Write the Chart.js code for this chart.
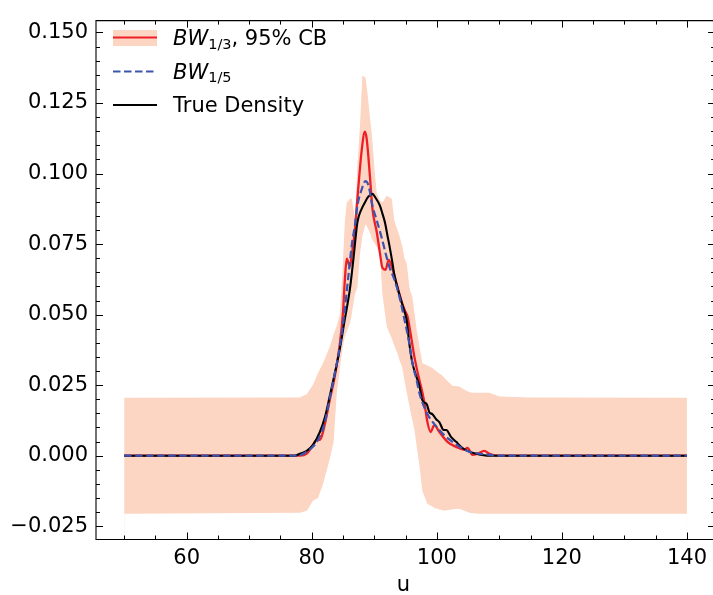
<!DOCTYPE html>
<html>
<head>
<meta charset="utf-8">
<script src="https://cdn.jsdelivr.net/npm/chart.js@4.4.0/dist/chart.umd.min.js"></script>
<style>
  html, body { margin: 0; padding: 0; background: #fff; }
</style>
</head>
<body>
<canvas id="kde" width="713" height="595"></canvas>
<script>
// --- data ---
const redU = [50, 78.1, 79.2, 80.2, 80.8, 81.3, 81.8, 82.9, 83.7, 84.5, 85.0, 85.3, 85.6, 86.1, 86.4, 86.9, 87.3, 88.0, 88.5, 88.8, 89.3, 89.7, 90.4, 90.9, 91.3, 91.8, 92.3, 92.8, 93.6, 94.5, 95.0, 95.3, 95.8, 96.4, 97.2, 97.7, 98.0, 98.5, 99.0, 99.6, 100.4, 101.7, 103.1, 104.4, 104.9, 105.7, 106.5, 107.6, 108.4, 110.0, 140];
const redV = [0, 0, 0.0007, 0.0038, 0.0056, 0.0056, 0.0084, 0.0199, 0.0283, 0.0398, 0.0509, 0.0625, 0.0698, 0.0670, 0.0712, 0.0799, 0.0911, 0.1085, 0.1148, 0.1120, 0.0991, 0.0876, 0.0792, 0.0719, 0.0666, 0.0659, 0.0694, 0.0670, 0.0607, 0.0537, 0.0509, 0.0495, 0.0433, 0.0352, 0.0269, 0.0223, 0.0189, 0.0119, 0.0084, 0.0108, 0.0084, 0.0049, 0.0031, 0.0021, 0.0028, 0.0003, 0.0007, 0.0017, 0.0007, 0, 0];

const blueU = [50, 77.8, 78.9, 80.0, 81.0, 82.1, 82.9, 83.7, 84.5, 85.3, 85.8, 86.4, 86.9, 87.3, 88.0, 88.6, 89.1, 89.7, 90.4, 91.2, 92.0, 92.4, 93.2, 94.0, 94.8, 95.6, 96.1, 96.8, 97.2, 98.0, 98.8, 99.6, 100.4, 101.5, 102.8, 103.9, 105.2, 106.8, 108.4, 110.0, 140];
const blueV = [0, 0, 0.0010, 0.0028, 0.0056, 0.0119, 0.0206, 0.0293, 0.0387, 0.0520, 0.0625, 0.0747, 0.0816, 0.0886, 0.0945, 0.0973, 0.0956, 0.0886, 0.0834, 0.0771, 0.0701, 0.0670, 0.0625, 0.0565, 0.0485, 0.0398, 0.0328, 0.0265, 0.0223, 0.0171, 0.0136, 0.0112, 0.0091, 0.0066, 0.0045, 0.0028, 0.0014, 0.0007, 0.0003, 0, 0];

const trueU = [50, 77.3, 78.1, 79.2, 80.2, 81.3, 82.1, 82.9, 83.7, 84.5, 85.3, 86.1, 86.7, 87.3, 88.0, 88.5, 88.9, 89.4, 89.7, 90.2, 90.9, 91.3, 91.7, 92.1, 92.4, 92.9, 93.2, 94.0, 94.7, 95.2, 95.6, 96.1, 96.8, 97.2, 97.7, 98.4, 98.8, 99.3, 99.9, 100.4, 101.1, 101.5, 102.3, 103.1, 103.9, 104.9, 106.3, 108.4, 140];
const trueV = [0, 0, 0.0007, 0.0017, 0.0038, 0.0084, 0.0136, 0.0213, 0.0293, 0.0380, 0.0485, 0.0590, 0.0705, 0.0827, 0.0876, 0.0897, 0.0914, 0.0924, 0.0928, 0.0914, 0.0886, 0.0858, 0.0827, 0.0781, 0.0747, 0.0684, 0.0642, 0.0572, 0.0520, 0.0478, 0.0398, 0.0328, 0.0276, 0.0248, 0.0196, 0.0182, 0.0154, 0.0147, 0.0129, 0.0119, 0.0091, 0.0091, 0.0066, 0.0049, 0.0031, 0.0017, 0.0007, 0, 0];

// 95% confidence band, upper and lower edge on one u grid
const cbU = [50, 78.1, 79.2, 80.2, 81.0, 81.8, 82.9, 83.5, 84.0, 84.5, 84.8, 85.0, 85.3, 85.6, 86.1, 86.4, 86.9, 87.3, 87.7, 88.1, 88.6, 88.9, 89.3, 89.6, 90.1, 90.4, 90.9, 91.3, 92.0, 92.8, 93.2, 93.7, 94.0, 94.5, 94.8, 95.2, 95.6, 95.8, 96.1, 96.4, 96.8, 97.2, 97.7, 98.5, 99.3, 99.6, 100.9, 101.2, 102.5, 103.6, 104.7, 105.2, 105.7, 106.8, 108.4, 110.0, 114.8, 140];
const cbUpper = [0.0205, 0.0206, 0.0218, 0.0251, 0.0293, 0.0328, 0.0387, 0.0430, 0.0460, 0.0502, 0.0607, 0.0694, 0.0834, 0.0897, 0.0911, 0.0911, 0.0841, 0.1026, 0.1165, 0.1347, 0.1340, 0.1287, 0.1200, 0.1141, 0.1000, 0.0931, 0.0905, 0.0897, 0.0921, 0.0911, 0.0834, 0.0800, 0.0781, 0.0740, 0.0701, 0.0680, 0.0600, 0.0580, 0.0562, 0.0510, 0.0443, 0.0390, 0.0328, 0.0320, 0.0311, 0.0305, 0.0283, 0.0275, 0.0248, 0.0245, 0.0230, 0.0226, 0.0223, 0.0223, 0.0223, 0.0210, 0.0206, 0.0205];
const cbLower = [-0.0206, -0.0202, -0.0195, -0.0160, -0.0150, -0.0101, -0.0010, 0.0049, 0.0223, 0.0311, 0.0360, 0.0390, 0.0422, 0.0440, 0.0468, 0.0502, 0.0572, 0.0597, 0.0712, 0.0780, 0.0820, 0.0810, 0.0790, 0.0770, 0.0750, 0.0740, 0.0715, 0.0572, 0.0457, 0.0415, 0.0390, 0.0363, 0.0340, 0.0311, 0.0270, 0.0223, 0.0180, 0.0154, 0.0125, 0.0094, 0.0030, -0.0031, -0.0126, -0.0171, -0.0180, -0.0185, -0.0193, -0.0195, -0.0190, -0.0188, -0.0198, -0.0202, -0.0204, -0.0206, -0.0206, -0.0206, -0.0206, -0.0206];

const xTicks = [60, 80, 100, 120, 140];
const yTicks = [-0.025, 0, 0.025, 0.05, 0.075, 0.1, 0.125, 0.15];

// axis limits and styling
const X_MIN = 45.5, X_MAX = 143.82, X_SPINE_RIGHT = 144.5;
const Y_MIN = -0.0297, Y_MAX = 0.1542;
const FONT = "'DejaVu Sans', sans-serif";
const RED = '#ee1f26';
const BLUE = '#3c54b0';
const BAND = '#fcd5c3';

const pts = (us, vs) => us.map((u, i) => ({ x: u, y: vs[i] }));

// inward ticks on all four sides + frame, matplotlib style
const frameTicks = {
    id: 'frameTicks',
    afterDraw(chart) {
        const { ctx, chartArea: a, scales: { x, y } } = chart;
        const right = x.getPixelForValue(X_SPINE_RIGHT);
        ctx.save();
        ctx.strokeStyle = '#000';
        ctx.lineWidth = 1.1;
        ctx.beginPath();
        ctx.moveTo(a.left, a.top); ctx.lineTo(a.left, a.bottom);
        ctx.lineTo(right, a.bottom); ctx.lineTo(right, a.top); ctx.closePath();
        ctx.stroke();

        ctx.lineWidth = 1;
        ctx.beginPath();
        for (let v = 50; v <= 140; v += 5) {
            const px = Math.round(x.getPixelForValue(v)) + 0.5;
            const len = xTicks.includes(v) ? 7 : 4;
            ctx.moveTo(px, a.bottom); ctx.lineTo(px, a.bottom - len);
            ctx.moveTo(px, a.top); ctx.lineTo(px, a.top + len);
        }
        for (let i = -5; i <= 30; i++) {
            const py = Math.round(y.getPixelForValue(i * 0.005)) + 0.5;
            const len = i % 5 === 0 ? 7 : 4;
            ctx.moveTo(a.left, py); ctx.lineTo(a.left + len, py);
            ctx.moveTo(right, py); ctx.lineTo(right - len, py);
        }
        ctx.stroke();
        ctx.restore();
    },
};

// legend with mathtext-like subscripts
const mathLegend = {
    id: 'mathLegend',
    afterDraw(chart) {
        const { ctx } = chart;
        const x0 = 113, x1 = 157, tx = 173;
        const rows = [45, 78.5, 112];
        ctx.save();

        // row 1: band patch + red line
        ctx.fillStyle = BAND;
        ctx.fillRect(x0, 30, x1 - x0, 16);
        ctx.strokeStyle = RED; ctx.lineWidth = 2.2;
        ctx.beginPath(); ctx.moveTo(x0, rows[0] - 7.5); ctx.lineTo(x1, rows[0] - 7.5); ctx.stroke();

        // row 2: dashed blue
        ctx.strokeStyle = BLUE; ctx.setLineDash([7.5, 3.5]);
        ctx.beginPath(); ctx.moveTo(x0, rows[1] - 7); ctx.lineTo(x1, rows[1] - 7); ctx.stroke();
        ctx.setLineDash([]);

        // row 3: black
        ctx.strokeStyle = '#000';
        ctx.beginPath(); ctx.moveTo(x0, rows[2] - 7); ctx.lineTo(x1, rows[2] - 7); ctx.stroke();

        ctx.fillStyle = '#000';
        ctx.textBaseline = 'alphabetic';
        ctx.textAlign = 'left';
        const bw = (sub, base, tail) => {
            ctx.font = `italic 21px ${FONT}`;
            ctx.fillText('BW', tx, base);
            let cx = tx + ctx.measureText('BW').width;
            ctx.font = `14.5px ${FONT}`;
            ctx.fillText(sub, cx, base + 3.5);
            cx += ctx.measureText(sub).width;
            if (tail) {
                ctx.font = `21px ${FONT}`;
                ctx.fillText(tail, cx, base);
            }
        };
        bw('1/3', rows[0], ', 95% CB');
        bw('1/5', rows[1]);
        ctx.font = `21px ${FONT}`;
        ctx.fillText('True Density', tx, rows[2]);
        ctx.restore();
    },
};

const smooth = { cubicInterpolationMode: 'monotone', pointRadius: 0 };

new Chart(document.getElementById('kde'), {
    type: 'line',
    data: {
        datasets: [
            // band: paint below the upper edge, then blank out below the lower edge
            { label: 'CB upper', data: pts(cbU, cbUpper), fill: 'start', backgroundColor: BAND, borderColor: 'rgba(0,0,0,0)', borderWidth: 0, order: 11 },
            { label: 'CB lower', data: pts(cbU, cbLower), fill: 'start', backgroundColor: '#ffffff', borderColor: 'rgba(0,0,0,0)', borderWidth: 0, order: 10 },
            { label: 'BW13', data: pts(redU, redV), borderColor: RED, borderWidth: 2.3, order: 3, ...smooth },
            { label: 'True Density', data: pts(trueU, trueV), borderColor: '#000', borderWidth: 2.1, order: 2, ...smooth },
            { label: 'BW15', data: pts(blueU, blueV), borderColor: BLUE, borderWidth: 2.2, borderDash: [7.5, 3.5], order: 1, ...smooth },
        ],
    },
    options: {
        responsive: false,
        animation: false,
        devicePixelRatio: 1,
        layout: { padding: { top: 12, right: 0, left: 0, bottom: 0 } },
        elements: { point: { radius: 0 }, line: { tension: 0, fill: false } },
        plugins: { legend: { display: false }, tooltip: { enabled: false } },
        scales: {
            x: {
                type: 'linear',
                min: X_MIN,
                max: X_MAX,
                grid: { display: false, drawTicks: false },
                border: { display: false },
                afterBuildTicks: (s) => { s.ticks = xTicks.map(v => ({ value: v })); },
                afterFit: (s) => { s.height = 55.5; },
                ticks: {
                    color: '#000',
                    padding: 6,
                    maxRotation: 0,
                    font: { family: FONT, size: 21 },
                    callback: (v) => String(v),
                },
                title: {
                    display: true,
                    text: 'u',
                    color: '#000',
                    padding: { top: 0, bottom: -3 },
                    font: { family: FONT, size: 21 },
                },
            },
            y: {
                min: Y_MIN,
                max: Y_MAX,
                grid: { display: false, drawTicks: false },
                border: { display: false },
                afterBuildTicks: (s) => { s.ticks = yTicks.map(v => ({ value: v })); },
                afterFit: (s) => { s.width = 96; },
                ticks: {
                    color: '#000',
                    padding: 8,
                    font: { family: FONT, size: 21 },
                    callback: (v) => v.toFixed(3).replace('-', '\u2212'),
                },
            },
        },
    },
    plugins: [frameTicks, mathLegend],
});
</script>
</body>
</html>
